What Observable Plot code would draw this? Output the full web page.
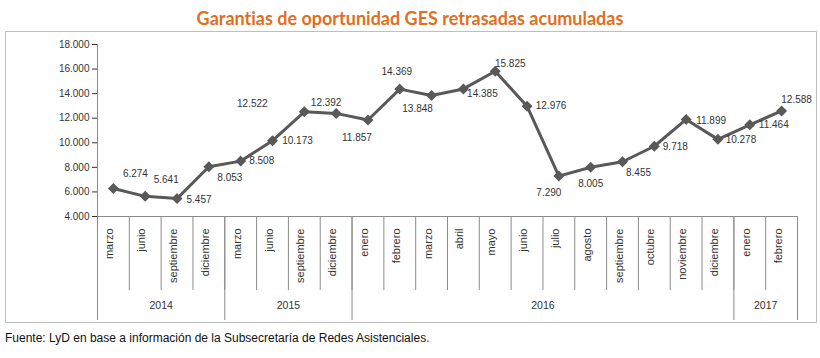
<!DOCTYPE html>
<html><head><meta charset="utf-8">
<script src="https://cdn.jsdelivr.net/npm/d3@7"></script>
<script src="https://cdn.jsdelivr.net/npm/@observablehq/plot@0.6"></script>
<style>
body{margin:0;background:#fff;font-family:"Liberation Sans",Arial,sans-serif;}
#wrap{position:relative;width:820px;height:358px;overflow:hidden;}
#title{position:absolute;top:7px;left:0;width:820px;text-align:center;color:#e0701e;font-family:Lato,"Liberation Sans",sans-serif;font-weight:bold;font-size:18px;line-height:22px;font-variant-ligatures:none;font-feature-settings:"liga" 0;}
#frame{position:absolute;left:5px;top:31px;width:812px;height:292px;border:1px solid #bfbfbf;box-sizing:border-box;}
#chart{position:absolute;left:0;top:31px;}
#caption{position:absolute;left:5px;top:330px;font-size:12px;line-height:16px;color:#111;}
</style></head>
<body>
<div id="wrap">
  <div id="title">Garantias de oportunidad GES retrasadas acumuladas</div>
  <div id="frame"></div>
  <div id="chart"></div>
  <div id="caption">Fuente: LyD en base a información de la Subsecretaría de Redes Asistenciales.</div>
</div>
<script>
const months = ["marzo","junio","septiembre","diciembre","marzo","junio","septiembre","diciembre","enero","febrero","marzo","abril","mayo","junio","julio","agosto","septiembre","octubre","noviembre","diciembre","enero","febrero"];
const monthYears = ["2014","2014","2014","2014","2015","2015","2015","2015","2016","2016","2016","2016","2016","2016","2016","2016","2016","2016","2016","2016","2017","2017"];
const values = [6274,5641,5457,8053,8508,10173,12522,12392,11857,14369,13848,14385,15825,12976,7290,8005,8455,9718,11899,10278,11464,12588];
// label placement offsets (px) relative to each point
const labelDx = [22,21,22,21,21,25,-52,-10,-11,-3,-14,19,15,24,-10,0,16,21,25,23,24,15];
const labelDy = [-15,-17,1,11,0,0,-8,-11,18,-17,13,5,-7,0,17,17,11,1,1,0,0,-11];

const data = values.map((v,i)=>({i, month: months[i], year: monthYears[i], value: v}));
const fmt = v => d3.format(",")(v).replace(/,/g,".");

// year groups
const yearGroups = [];
monthYears.forEach((y,i)=>{
  const g = yearGroups[yearGroups.length-1];
  if (g && g.year===y) g.end = i; else yearGroups.push({year:y, start:i, end:i});
});
const monthBounds = d3.range(months.length+1).map(i=>i-0.5);
const yearBounds = [-0.5, ...yearGroups.map(g=>g.end+0.5)];

const gridColor = "#8c8c8c";
const H = 292, mT = 13, mB = 107;
const plotH = H - mT - mB;

const labelMarks = data.map((d,i)=>Plot.text([d], {x:"i", y:"value", text: d=>fmt(d.value), dx: labelDx[i], dy: labelDy[i], fill:"#333", fontSize:10}));

const chart = Plot.plot({
  width: 820, height: H,
  marginTop: mT, marginBottom: mB, marginLeft: 97, marginRight: 23,
  style: {fontFamily: "'Liberation Sans', Arial, sans-serif", fontSize: "10px", color: "#333", background: "transparent"},
  x: {type: "linear", domain: [-0.5, months.length-0.5], axis: null},
  y: {domain: [4000, 18000], ticks: 7, tickFormat: fmt, tickSize: 5, tickPadding: 3, label: null},
  marks: [
    Plot.ruleX([-0.5], {stroke: gridColor}),
    Plot.ruleY([4000], {x1: -0.5, x2: months.length-0.5, stroke: gridColor}),
    Plot.ruleX(monthBounds, {stroke: gridColor, insetTop: plotH, insetBottom: -74}),
    Plot.ruleX(yearBounds, {stroke: gridColor, insetTop: plotH, insetBottom: -104}),
    Plot.text(data, {x: "i", text: "month", frameAnchor: "bottom", rotate: -90, textAnchor: "end", dy: 12, fill: "#333", fontSize: 11}),
    Plot.text(yearGroups, {x: g => (g.start+g.end)/2, text: "year", frameAnchor: "bottom", dy: 92, fill: "#333", fontSize: 10.5}),
    Plot.line(data, {x: "i", y: "value", stroke: "#595959", strokeWidth: 3}),
    Plot.dot(data, {x: "i", y: "value", symbol: "diamond2", r: 4, fill: "#595959", stroke: "#595959"}),
    ...labelMarks
  ]
});
document.getElementById("chart").appendChild(chart);
</script>
</body></html>
